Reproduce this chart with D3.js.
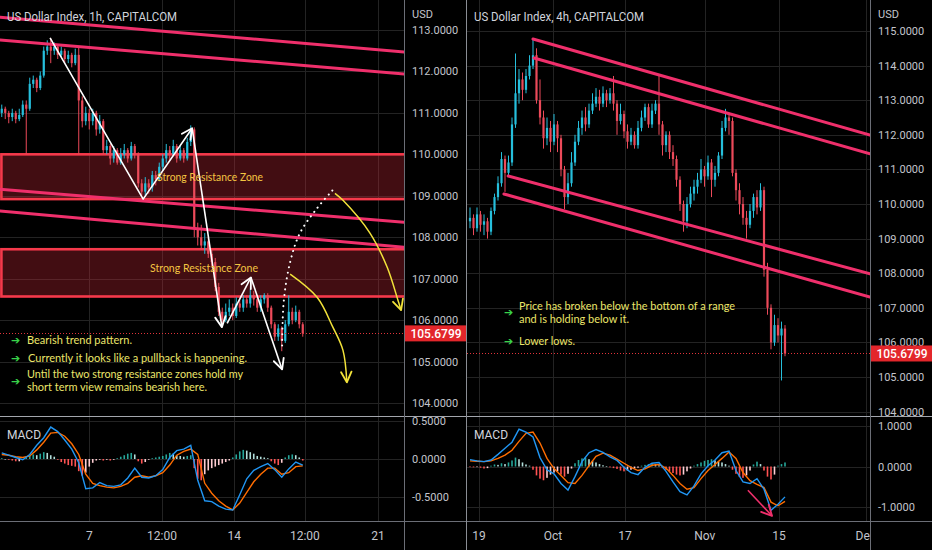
<!DOCTYPE html>
<html>
<head>
<meta charset="utf-8">
<script src="https://cdn.jsdelivr.net/npm/d3@7"></script>
<style>
  html, body { margin: 0; background: #000; overflow: hidden; }
  svg { display: block; }
</style>
</head>
<body>
<div id="chart"></div>
<script>
// ---- 1h chart (left) ----
const leftOpen0 = 111.0;
const leftClose = [111.1,111.0,110.9,111.0,110.85,110.95,111.2,111.1,111.7,111.8,
  111.6,111.9,112.5,112.6,112.5,112.6,112.4,112.5,112.3,112.4,
  112.2,112.4,111.3,110.8,111.0,110.8,111.0,110.6,110.8,110.1,
  110.2,109.9,110.1,109.8,110.0,110.1,109.9,110.2,110.0,109.3,
  109.1,109.3,109.2,109.5,109.4,109.7,109.9,110.1,110.0,110.2,
  109.9,110.1,109.9,110.3,110.6,108.2,108.0,107.8,107.9,107.6,
  107.4,106.8,106.2,106.0,106.2,106.3,106.1,106.4,106.3,106.5,
  106.4,106.6,106.5,106.3,106.5,106.6,106.3,105.9,105.6,105.8,
  105.5,105.9,106.2,106.0,106.2,105.9,105.68];
const leftHigh = [111.2,111.15,111.05,111.1,111.05,111.1,111.3,111.3,111.85,111.9,
  111.85,112.0,112.6,112.75,112.8,112.7,112.65,112.6,112.55,112.5,
  112.45,112.55,112.6,111.4,111.15,111.1,111.1,111.05,110.95,110.85,
  110.35,110.25,110.2,110.15,110.15,110.25,110.15,110.3,110.25,110.05,
  109.4,109.45,109.4,109.6,109.6,109.8,110.0,110.25,110.2,110.35,
  110.25,110.2,110.15,110.4,110.7,110.65,108.35,108.3,108.1,108.0,
  107.7,107.5,106.9,106.3,106.4,106.5,106.4,106.55,106.5,106.6,
  106.6,106.75,106.7,106.55,106.6,106.65,106.65,106.35,105.95,105.9,
  105.85,106.0,106.6,106.3,106.35,106.25,105.95];
const leftLow = [110.9,110.85,110.75,110.8,110.75,110.8,110.9,110.0,111.05,111.6,
  111.5,111.55,111.85,112.4,112.2,112.4,112.3,112.35,112.2,112.2,
  112.1,112.15,110.0,110.65,110.7,110.6,110.7,110.45,110.5,110.0,
  110.0,109.75,109.8,109.75,109.75,109.9,109.8,109.85,109.9,109.2,
  109.0,108.97,109.05,109.1,109.25,109.35,109.6,109.8,109.85,109.95,
  109.8,109.85,109.8,109.85,110.2,108.0,107.8,107.7,107.6,107.5,
  107.3,106.7,106.1,105.9,105.95,106.1,106.0,106.05,106.2,106.2,
  106.3,106.3,106.35,106.2,106.2,106.4,106.2,105.8,105.5,105.5,
  105.25,105.45,105.85,105.9,105.95,105.8,105.6];
// MACD / signal read at every second candle
const leftMacd = [0.08,0.05,0.02,-0.01,0.06,0.18,0.28,0.42,0.36,0.25,
  0.13,-0.05,-0.39,-0.38,-0.31,-0.35,-0.36,-0.34,-0.25,-0.12,
  -0.24,-0.25,-0.22,-0.14,0.02,0.11,0.13,0.18,-0.28,-0.55,
  -0.56,-0.62,-0.66,-0.67,-0.47,-0.26,-0.15,-0.1,-0.06,-0.14,
  -0.24,-0.13,-0.04,-0.08];
const leftSignal = [0.06,0.05,0.03,0.02,0.04,0.12,0.22,0.34,0.35,0.3,
  0.2,0.06,-0.2,-0.32,-0.35,-0.37,-0.38,-0.36,-0.32,-0.24,
  -0.22,-0.24,-0.22,-0.18,-0.08,0.05,0.1,0.13,0.06,-0.32,
  -0.45,-0.55,-0.62,-0.67,-0.58,-0.44,-0.3,-0.2,-0.12,-0.12,
  -0.2,-0.18,-0.1,-0.09];
const leftHist = [0.01,0,-0.01,-0.02,-0.03,-0.03,-0.01,0.02,0.04,0.06,
  0.05,0.07,0.09,0.08,0.05,0.03,-0.01,-0.04,-0.06,-0.08,
  -0.09,-0.1,-0.16,-0.22,-0.18,-0.1,-0.05,-0.02,-0.01,-0.02,
  -0.01,-0.02,-0.01,0.01,0.03,0.05,0.07,0.08,0.06,-0.03,
  -0.06,-0.04,-0.01,0.01,0.02,0.03,0.04,0.06,0.08,0.07,
  0.05,0.04,0.03,0.04,0.05,-0.12,-0.26,-0.28,-0.2,-0.15,
  -0.12,-0.1,-0.08,-0.06,-0.04,-0.02,0.02,0.06,0.1,0.12,
  0.11,0.09,0.07,0.04,0.03,0.02,0.01,-0.03,-0.06,-0.08,
  -0.05,0.02,0.05,0.06,0.05,0.02,-0.02];
const leftPriceTicks = [104,105,106,107,108,109,110,111,112,113];
const leftMacdTicks = [-0.5, 0, 0.5];
const leftTimeTicks = [25, 45.8, 66.4, 86.6, 107.5];
const leftTimeLabels = ["7", "12:00", "14", "12:00", "21"];
// drawings, as [candle index, price]
const leftTrendLines = [
  [[-0.5, 113.31], [115, 112.47]],
  [[-0.5, 112.76], [115, 111.94]],
  [[-0.5, 109.16], [115, 108.36]],
  [[-0.5, 108.63], [115, 107.76]]
];
const leftZones = [[110.0, 108.92], [107.71, 106.57]];
const leftZig = [
  [[13.8, 112.81], [40.4, 108.92], [54.4, 110.63]],
  [[54.4, 110.63], [62.9, 105.83]],
  [[64.4, 105.92], [71.2, 107.03]],
  [[71.2, 107.03], [80.1, 104.81]]
];
const leftDotted = [[80.1, 105.39], [80.6, 106.48], [82.4, 107.40], [85.2, 108.10], [90.1, 108.70], [94.6, 109.14]];
const leftYellowA = [[95.2, 109.06], [97.5, 108.89], [105.2, 108.10], [110.1, 107.28], [113.2, 106.48], [114.1, 106.24]];
const leftYellowB = [[82.4, 107.11], [90.1, 106.55], [94.6, 105.83], [97.5, 105.27], [98.6, 104.50]];

// ---- 4h chart (right) ----
const rightOpen0 = 109.5;
const rightClose = [109.6,109.3,109.7,109.4,109.5,109.2,109.8,110.2,110.6,111.3,
  110.9,111.2,112.3,113.2,113.6,113.3,113.7,114.0,114.3,113.0,
  112.5,111.9,112.2,111.8,112.3,111.9,111.0,110.2,110.6,111.2,
  111.8,112.2,112.5,112.3,112.7,112.9,113.1,112.9,113.2,113.0,
  113.2,112.9,112.4,112.6,112.1,111.8,112.0,111.7,112.2,112.5,
  112.8,112.3,112.7,112.9,112.3,111.7,112.0,111.5,111.3,110.7,
  110.0,109.5,110.0,110.3,110.5,110.7,111.0,110.8,111.2,110.7,
  110.9,111.4,112.2,112.5,112.4,110.9,110.4,110.0,109.6,109.4,
  109.8,110.2,109.9,110.4,108.1,107.0,106.0,106.5,106.2,106.4,
  105.68];
const rightHigh = [109.9,109.7,109.9,109.8,109.7,109.6,109.9,110.3,110.8,111.5,
  111.4,111.4,112.5,114.35,113.9,113.8,113.9,114.3,114.75,114.5,
  113.6,112.7,112.5,112.4,112.6,112.4,112.0,111.1,110.9,111.5,
  112.0,112.4,112.7,112.8,112.9,113.2,113.35,113.3,113.4,113.3,
  113.35,113.7,113.0,112.9,112.7,112.3,112.2,112.1,112.4,112.7,
  112.9,112.9,112.9,113.0,113.7,112.4,112.1,112.1,111.7,111.4,
  110.8,110.1,110.2,110.5,110.7,110.9,111.3,111.1,111.4,111.3,
  111.1,111.5,112.4,112.75,112.6,112.5,111.0,110.6,110.2,109.8,
  110.0,110.3,110.4,110.6,110.5,108.3,107.1,106.8,106.7,106.6,
  106.5];
const rightLow = [109.3,109.1,109.2,109.2,109.1,109.0,109.1,109.7,110.1,110.5,
  110.35,110.8,111.1,112.2,112.9,113.0,113.2,113.6,113.9,112.9,
  112.3,111.6,111.7,111.5,111.7,111.5,110.8,109.85,110.0,110.5,
  111.1,111.7,112.0,112.1,112.2,112.6,112.8,112.7,112.8,112.8,
  112.9,112.7,112.0,112.3,111.9,111.6,111.7,111.6,111.6,112.1,
  112.4,112.2,112.2,112.6,112.0,111.4,111.5,111.3,111.1,110.5,
  109.8,109.2,109.3,109.9,110.1,110.3,110.6,110.5,110.7,110.2,
  110.5,110.8,111.3,112.1,112.0,110.8,110.1,109.7,109.4,109.0,
  109.3,109.6,109.7,109.8,107.9,106.8,105.8,105.9,106.0,104.9,
  105.6];
const rightMacd = [0.17,0.14,0.12,0.16,0.3,0.45,0.6,0.92,0.85,0.73,
  0.22,-0.08,-0.18,-0.42,-0.58,-0.25,0.12,0.34,0.42,0.35,
  0.24,0.15,-0.02,-0.15,-0.2,-0.02,0.08,0.1,-0.12,-0.38,
  -0.62,-0.7,-0.48,-0.18,0.02,0.16,0.34,0.38,-0.1,-0.38,
  -0.42,-0.3,-0.56,-1.08,-0.93,-0.75];
const rightSignal = [0.14,0.13,0.12,0.14,0.2,0.28,0.4,0.62,0.82,0.85,
  0.58,0.2,-0.05,-0.22,-0.4,-0.42,-0.22,0.02,0.25,0.33,
  0.28,0.18,0.08,-0.02,-0.1,-0.06,0.03,0.05,-0.04,-0.22,
  -0.42,-0.56,-0.52,-0.3,-0.1,0.05,0.2,0.36,0.2,-0.15,
  -0.35,-0.44,-0.52,-0.88,-0.97,-0.86];
const rightHist = [-0.01,-0.02,-0.01,-0.03,-0.05,-0.04,0.02,0.05,0.04,0.08,
  0.06,0.1,0.15,0.22,0.18,0.1,0.05,0.02,-0.08,-0.22,
  -0.3,-0.34,-0.28,-0.2,-0.15,-0.12,-0.2,-0.25,-0.18,-0.05,
  0.08,0.16,0.2,0.22,0.18,0.14,0.1,0.06,0.03,0.01,
  -0.02,-0.04,-0.06,-0.1,-0.12,-0.1,-0.08,-0.05,-0.03,0.02,
  0.04,0.06,0.08,0.06,0.03,-0.04,-0.08,-0.12,-0.16,-0.2,
  -0.22,-0.2,-0.12,-0.05,0.02,0.06,0.1,0.14,0.16,0.18,
  0.15,0.12,0.1,0.06,0.02,-0.08,-0.18,-0.26,-0.28,-0.22,
  -0.1,0.05,0.12,0.06,-0.1,-0.25,-0.32,-0.2,0.02,0.06,
  0.1];
const rightPriceTicks = [104,105,106,107,108,109,110,111,112,113,114,115];
const rightMacdTicks = [-1, 0, 1];
const rightTimeTicks = [2.6, 23.7, 44.3, 67.1, 88.3, 113.1];
const rightTimeLabels = ["19", "Oct", "17", "Nov", "15", "Dec"];
const rightTrendLines = [
  [[18, 114.77], [114.3, 111.99]],
  [[18.3, 114.22], [114.3, 111.45]],
  [[10.9, 110.81], [114.3, 107.98]],
  [[9.7, 110.29], [114.3, 107.31]]
];
const rightMacdArrow = [[79.4, -0.585], [86.3, -1.22]];

const lastPrice = 105.6799;

// ---- drawing ----
const W = 932, H = 550;
const PANE_SPLIT = 416, MACD_BOTTOM = 521;
const UP = '#26bfdc', DOWN = '#ec4a5a', PINK = '#ef2f6b', ZONE = '#f5394b';
const GRID = '#232323', AXIS_TXT = '#c3c5cc';

const svg = d3.select('#chart').append('svg')
  .attr('width', W).attr('height', H)
  .style('background', '#000')
  .style('font-family', 'Roboto, "Liberation Sans", sans-serif');

const defs = svg.append('defs');
function chevron(id, color, size) {
  defs.append('marker').attr('id', id)
    .attr('viewBox', '0 0 10 10').attr('refX', 9).attr('refY', 5)
    .attr('markerUnits', 'userSpaceOnUse')
    .attr('markerWidth', size).attr('markerHeight', size)
    .attr('orient', 'auto')
    .append('path').attr('d', 'M1,1 L9,5 L1,9')
    .attr('fill', 'none').attr('stroke', color).attr('stroke-width', 1.4)
    .attr('stroke-linecap', 'round').attr('stroke-linejoin', 'round');
}
chevron('arW', '#ffffff', 13);
chevron('arY', '#f2e23a', 13);
chevron('arP', PINK, 13);

function clip(id, x, y, w, h) {
  defs.append('clipPath').attr('id', id).append('rect')
    .attr('x', x).attr('y', y).attr('width', w).attr('height', h);
  return `url(#${id})`;
}

function drawPanel(p) {
  const g = svg.append('g');
  const { x, y, m } = p;
  const plotW = p.axisX - p.left;

  const mainClip = clip(p.id + 'main', p.left, 0, plotW, PANE_SPLIT);
  const macdClip = clip(p.id + 'macd', p.left, PANE_SPLIT, plotW, MACD_BOTTOM - PANE_SPLIT);
  const axisClip = clip(p.id + 'axis', p.axisX, 0, p.right - p.axisX, PANE_SPLIT);
  const timeClip = clip(p.id + 'time', p.left, MACD_BOTTOM, plotW, H - MACD_BOTTOM);

  // grid
  const grid = g.append('g').attr('stroke', GRID).attr('stroke-width', 1);
  grid.selectAll('line.v').data(p.timeTicks).join('line')
    .attr('x1', d => Math.round(x(d)) + 0.5).attr('x2', d => Math.round(x(d)) + 0.5)
    .attr('y1', 0).attr('y2', MACD_BOTTOM);
  grid.append('g').attr('clip-path', mainClip).selectAll('line').data(p.priceTicks).join('line')
    .attr('x1', p.left).attr('x2', p.axisX)
    .attr('y1', d => Math.round(y(d)) + 0.5).attr('y2', d => Math.round(y(d)) + 0.5);
  grid.append('g').attr('clip-path', macdClip).selectAll('line').data(p.macdTicks).join('line')
    .attr('x1', p.left).attr('x2', p.axisX)
    .attr('y1', d => Math.round(m(d)) + 0.5).attr('y2', d => Math.round(m(d)) + 0.5);

  const main = g.append('g').attr('clip-path', mainClip);

  // resistance zones
  (p.zones || []).forEach(z => {
    main.append('rect')
      .attr('x', x(-0.1)).attr('width', p.axisX - x(-0.1) + 4)
      .attr('y', y(z[0])).attr('height', y(z[1]) - y(z[0]))
      .attr('fill', 'rgba(200,40,55,0.33)')
      .attr('stroke', ZONE).attr('stroke-width', 2.6);
  });

  // candles
  const candles = p.close.map((c, i) => ({
    i, o: i ? p.close[i - 1] : p.open0, h: p.high[i], l: p.low[i], c
  }));
  const col = d => d.c >= d.o ? UP : DOWN;
  main.selectAll('line.wick').data(candles).join('line')
    .attr('x1', d => x(d.i)).attr('x2', d => x(d.i))
    .attr('y1', d => y(d.h)).attr('y2', d => y(d.l))
    .attr('stroke', col).attr('stroke-width', 1);
  main.selectAll('rect.body').data(candles).join('rect')
    .attr('x', d => x(d.i) - 1.1).attr('width', 2.2)
    .attr('y', d => y(Math.max(d.o, d.c)))
    .attr('height', d => Math.max(1, Math.abs(y(d.o) - y(d.c))))
    .attr('fill', col);

  // trend lines
  const line = d3.line().x(d => x(d[0])).y(d => y(d[1]));
  main.selectAll('path.trend').data(p.trendLines).join('path')
    .attr('d', line).attr('fill', 'none')
    .attr('stroke', PINK).attr('stroke-width', 3).attr('stroke-linecap', 'round');

  // last price line
  main.append('line')
    .attr('x1', p.left).attr('x2', p.axisX)
    .attr('y1', Math.round(y(lastPrice)) + 0.5).attr('y2', Math.round(y(lastPrice)) + 0.5)
    .attr('stroke', '#e0333a').attr('stroke-width', 1).attr('stroke-dasharray', '1,2');

  // MACD pane
  const macd = g.append('g').attr('clip-path', macdClip);
  const bars = p.hist.map((h, i) => ({ i, h, prev: i ? p.hist[i - 1] : 0 }));
  macd.selectAll('rect').data(bars).join('rect')
    .attr('x', d => x(d.i) - 0.8).attr('width', 1.6)
    .attr('y', d => Math.min(m(0), m(d.h)))
    .attr('height', d => Math.max(0.6, Math.abs(m(d.h) - m(0))))
    .attr('fill', d => d.h >= 0 ? (d.h >= d.prev ? '#26a69a' : '#b2dfdb')
                                : (d.h < d.prev ? '#ff5252' : '#ffcdd2'));
  const mline = d3.line().x((d, k) => x(k * 2)).y(d => m(d));
  macd.append('path').attr('d', mline(p.signal)).attr('fill', 'none')
    .attr('stroke', '#ff6d00').attr('stroke-width', 1.4);
  macd.append('path').attr('d', mline(p.macd)).attr('fill', 'none')
    .attr('stroke', '#2196f3').attr('stroke-width', 1.4);
  g.append('text').attr('x', p.left + 7).attr('y', 439)
    .attr('fill', '#d1d4dc').attr('font-size', 12).text('MACD');

  // separators
  g.append('line').attr('x1', p.left).attr('x2', p.right)
    .attr('y1', PANE_SPLIT + 0.5).attr('y2', PANE_SPLIT + 0.5)
    .attr('stroke', '#a3a6ad').attr('stroke-width', 1);
  g.append('line').attr('x1', p.left).attr('x2', p.right)
    .attr('y1', MACD_BOTTOM + 0.5).attr('y2', MACD_BOTTOM + 0.5)
    .attr('stroke', '#6b6e76').attr('stroke-width', 1);
  g.append('line').attr('x1', p.axisX + 0.5).attr('x2', p.axisX + 0.5)
    .attr('y1', 0).attr('y2', H)
    .attr('stroke', '#6b6e76').attr('stroke-width', 1);

  // price axis
  const ax = g.append('g').attr('clip-path', axisClip)
    .attr('fill', AXIS_TXT).attr('font-size', 11);
  ax.selectAll('text').data(p.priceTicks).join('text')
    .attr('x', p.axisX + 8).attr('y', d => y(d) + 4)
    .text(d => d.toFixed(4));
  g.append('text').attr('x', p.axisX + 8).attr('y', 18)
    .attr('fill', AXIS_TXT).attr('font-size', 11).text('USD');
  g.append('g').attr('fill', AXIS_TXT).attr('font-size', 11)
    .selectAll('text').data(p.macdTicks).join('text')
    .attr('x', p.axisX + 8).attr('y', d => m(d) + 4)
    .text(d => d.toFixed(4));

  // last price label
  g.append('rect').attr('x', p.axisX + 1).attr('width', p.right - p.axisX - 1)
    .attr('y', y(lastPrice) - 8).attr('height', 16).attr('fill', '#e3262b');
  g.append('text').attr('x', (p.axisX + p.right) / 2 + 1).attr('y', y(lastPrice) + 4.5)
    .attr('text-anchor', 'middle').attr('fill', '#fff').attr('font-size', 12)
    .attr('font-weight', 500).text(lastPrice.toFixed(4));

  // time axis
  g.append('g').attr('clip-path', timeClip).attr('fill', AXIS_TXT).attr('font-size', 12)
    .selectAll('text').data(p.timeTicks).join('text')
    .attr('x', d => x(d)).attr('y', 540).attr('text-anchor', 'middle')
    .text((d, k) => p.timeLabels[k]);

  // title
  g.append('text').attr('x', p.left + 7).attr('y', 21)
    .attr('fill', '#d1d4dc').attr('font-size', 12.5)
    .attr('textLength', 170).attr('lengthAdjust', 'spacingAndGlyphs')
    .text(p.title);

  return { g, main, macd };
}

const xL = d3.scaleLinear().domain([0, 100]).range([1.75, 351.75]);
const yL = d3.scaleLinear().domain([104, 113]).range([403, 30]);
const mL = d3.scaleLinear().domain([-0.5, 0.5]).range([497, 421]);
const xR = d3.scaleLinear().domain([0, 100]).range([470, 820]);
const yR = d3.scaleLinear().domain([104, 115]).range([411.6, 31]);
const mR = d3.scaleLinear().domain([-1, 1]).range([507, 426]);

const left = drawPanel({
  id: 'L', left: 0, axisX: 404, right: 466, x: xL, y: yL, m: mL,
  open0: leftOpen0, close: leftClose, high: leftHigh, low: leftLow,
  macd: leftMacd, signal: leftSignal, hist: leftHist,
  priceTicks: leftPriceTicks, macdTicks: leftMacdTicks,
  timeTicks: leftTimeTicks, timeLabels: leftTimeLabels,
  trendLines: leftTrendLines, zones: leftZones,
  title: 'US Dollar Index, 1h, CAPITALCOM'
});
const right = drawPanel({
  id: 'R', left: 467, axisX: 870, right: 932, x: xR, y: yR, m: mR,
  open0: rightOpen0, close: rightClose, high: rightHigh, low: rightLow,
  macd: rightMacd, signal: rightSignal, hist: rightHist,
  priceTicks: rightPriceTicks, macdTicks: rightMacdTicks,
  timeTicks: rightTimeTicks, timeLabels: rightTimeLabels,
  trendLines: rightTrendLines,
  title: 'US Dollar Index, 4h, CAPITALCOM'
});

// panel divider
svg.append('line').attr('x1', 466.5).attr('x2', 466.5).attr('y1', 0).attr('y2', H)
  .attr('stroke', '#8a8d94').attr('stroke-width', 1);

// ---- left annotations ----
const lineL = d3.line().x(d => xL(d[0])).y(d => yL(d[1]));
const curveL = d3.line().x(d => xL(d[0])).y(d => yL(d[1])).curve(d3.curveCatmullRom);
left.main.selectAll('path.zig').data(leftZig).join('path')
  .attr('d', lineL).attr('fill', 'none').attr('stroke', '#fff')
  .attr('stroke-width', 1.6).attr('stroke-linejoin', 'round')
  .attr('marker-end', (d, k) => k === 0 ? 'url(#arW)' : 'url(#arW)');
left.main.append('path').attr('d', curveL(leftDotted)).attr('fill', 'none')
  .attr('stroke', '#fff').attr('stroke-width', 2).attr('stroke-linecap', 'round')
  .attr('stroke-dasharray', '0.1,5.5');
[leftYellowA, leftYellowB].forEach(pts => {
  left.main.append('path').attr('d', curveL(pts)).attr('fill', 'none')
    .attr('stroke', '#f2e23a').attr('stroke-width', 1.5)
    .attr('marker-end', 'url(#arY)');
});

const note = svg.append('g').style('font-family', 'Lato, "Open Sans", sans-serif');
function zoneLabel(xc, yb, w) {
  note.append('text').attr('x', xc).attr('y', yb).attr('text-anchor', 'middle')
    .attr('fill', '#f4c542').attr('font-size', 11.5)
    .attr('textLength', w).attr('lengthAdjust', 'spacingAndGlyphs')
    .text('Strong Resistance Zone');
}
zoneLabel(210, 181, 106);
zoneLabel(204, 272, 108);

function bullet(ax, ay) {
  note.append('text').attr('x', ax).attr('y', ay + 4).attr('fill', '#39d24a')
    .attr('font-size', 11).style('font-family', '"DejaVu Sans", sans-serif')
    .attr('font-weight', 'bold').text('➔');
}
function noteLine(tx, ty, w, txt) {
  note.append('text').attr('x', tx).attr('y', ty).attr('fill', '#ece66a')
    .attr('font-size', 11.5).attr('textLength', w).attr('lengthAdjust', 'spacingAndGlyphs')
    .text(txt);
}
bullet(11, 340); noteLine(27, 344, 105, 'Bearish trend pattern.');
bullet(11, 358); noteLine(28, 362, 219, 'Currently it looks like a pullback is happening.');
bullet(11, 381);
noteLine(27, 378, 216, 'Until the two strong resistance zones hold my');
noteLine(27, 391, 180, 'short term view remains bearish here.');

// ---- right annotations ----
bullet(504, 312);
noteLine(519, 310, 216, 'Price has broken below the bottom of a range');
noteLine(519, 323, 110, 'and is holding below it.');
bullet(504, 341); noteLine(519, 345, 56, 'Lower lows.');

const lineRm = d3.line().x(d => xR(d[0])).y(d => mR(d[1]));
right.macd.append('path').attr('d', lineRm(rightMacdArrow)).attr('fill', 'none')
  .attr('stroke', PINK).attr('stroke-width', 1.6).attr('marker-end', 'url(#arP)');
</script>
</body>
</html>
